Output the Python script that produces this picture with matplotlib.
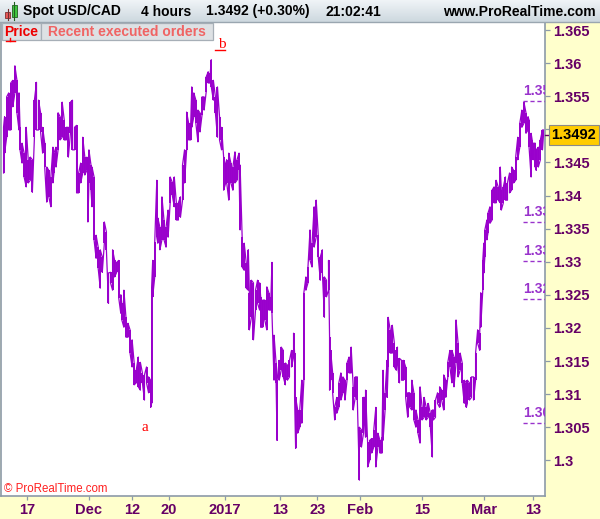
import matplotlib
import numpy as np

matplotlib.use("Agg")
import matplotlib.pyplot as plt
import matplotlib.transforms as mtransforms
from matplotlib.patches import Rectangle
from matplotlib.ticker import FixedLocator, FuncFormatter

plt.rcParams["font.family"] = ["Liberation Sans", "DejaVu Sans"]

# ------------------------------------
# Data
# ------------------------------------
# 4-hour bars, counted from the first bar on screen; high / low per sampled bar.
bar_index = [
    2, 3, 5, 7, 9, 11, 13, 15, 17, 18,
    20, 22, 24, 26, 28, 30, 32, 34, 36, 38,
    40, 42, 44, 46, 48, 50, 51, 53, 55, 57,
    59, 61, 63, 65, 67, 69, 71, 73, 75, 77,
    79, 81, 83, 84, 85, 87, 88, 90, 92, 94,
    96, 98, 100, 102, 104, 106, 108, 110, 112, 114,
    116, 117, 119, 121, 123, 125, 127, 129, 131, 133,
    135, 137, 139, 141, 143, 145, 146, 147, 149, 151,
    152, 154, 156, 158, 160, 162, 164, 166, 168, 170,
    172, 174, 176, 178, 180, 182, 184, 185, 187, 189,
    191, 193, 195, 197, 199, 201, 203, 204, 206, 208,
    210, 212, 214, 216, 218, 219, 221, 223, 225, 227,
    229, 231, 232, 234, 236, 238, 240, 241, 243, 245,
    247, 249, 251, 252, 254, 256, 258, 260, 262, 263,
    265, 267, 268, 270, 272, 274, 276, 278, 280, 282,
    284, 285, 286, 288, 290, 292, 294, 296, 298, 300,
    302, 304, 306, 308, 310, 312, 314, 316, 318, 319,
    320, 322, 324, 326, 328, 330, 332, 334, 336, 338,
    340, 342, 344, 346, 348, 350, 352, 353, 354, 356,
    358, 360, 362, 364, 366, 368, 370, 371, 373, 375,
    376, 378, 380, 382, 384, 385, 387, 389, 391, 393,
    395, 397, 399, 401, 403, 405, 407, 409, 411, 413,
    415, 417, 419, 420, 422, 424, 426, 428, 430, 432,
    434, 436, 438, 440, 442, 444, 446, 448, 450, 452,
    453, 455, 457, 459, 461, 463, 465, 466, 468, 469,
    470, 472, 473, 475, 477, 479, 481, 483, 485, 486,
    488, 490, 492, 494, 496, 498, 500, 502, 504, 506,
    508, 510, 512, 513, 515, 516, 517, 519, 520, 522,
    524, 526, 527,
]
highs = [
    1.3503, 1.3519, 1.3549, 1.3555, 1.3570, 1.3574, 1.3596, 1.3574, 1.3555, 1.3503,
    1.3479, 1.3464, 1.3503, 1.3454, 1.3458, 1.3454, 1.3544, 1.3571, 1.3544, 1.3525,
    1.3503, 1.3479, 1.3443, 1.3438, 1.3428, 1.3473, 1.3464, 1.3473, 1.3525, 1.3519,
    1.3541, 1.3514, 1.3503, 1.3503, 1.3541, 1.3544, 1.3503, 1.3506, 1.3434, 1.3449,
    1.3488, 1.3458, 1.3458, 1.3454, 1.3469, 1.3446, 1.3443, 1.3428, 1.3340, 1.3322,
    1.3318, 1.3307, 1.3360, 1.3345, 1.3283, 1.3284, 1.3318, 1.3302, 1.3299, 1.3302,
    1.3250, 1.3237, 1.3257, 1.3216, 1.3207, 1.3197, 1.3182, 1.3147, 1.3136, 1.3156,
    1.3148, 1.3132, 1.3129, 1.3141, 1.3126, 1.3121, 1.3262, 1.3302, 1.3330, 1.3423,
    1.3366, 1.3352, 1.3398, 1.3363, 1.3352, 1.3378, 1.3428, 1.3420, 1.3428, 1.3389,
    1.3389, 1.3398, 1.3446, 1.3469, 1.3526, 1.3509, 1.3509, 1.3564, 1.3555, 1.3544,
    1.3529, 1.3525, 1.3549, 1.3549, 1.3579, 1.3587, 1.3585, 1.3605, 1.3574, 1.3549,
    1.3564, 1.3519, 1.3503, 1.3458, 1.3449, 1.3454, 1.3464, 1.3449, 1.3443, 1.3466,
    1.3454, 1.3464, 1.3446, 1.3337, 1.3328, 1.3298, 1.3318, 1.3253, 1.3272, 1.3268,
    1.3257, 1.3272, 1.3268, 1.3247, 1.3242, 1.3242, 1.3262, 1.3253, 1.3247, 1.3299,
    1.3189, 1.3147, 1.3121, 1.3151, 1.3171, 1.3166, 1.3147, 1.3144, 1.3151, 1.3166,
    1.3192, 1.3162, 1.3095, 1.3076, 1.3076, 1.3121, 1.3253, 1.3277, 1.3292, 1.3348,
    1.3328, 1.3383, 1.3393, 1.3340, 1.3307, 1.3318, 1.3277, 1.3272, 1.3302, 1.3186,
    1.3166, 1.3132, 1.3080, 1.3095, 1.3117, 1.3132, 1.3126, 1.3121, 1.3147, 1.3156,
    1.3171, 1.3111, 1.3126, 1.3126, 1.3050, 1.3046, 1.3095, 1.3095, 1.3106, 1.3027,
    1.3030, 1.3033, 1.3046, 1.3080, 1.3041, 1.3030, 1.3035, 1.3136, 1.3102, 1.3151,
    1.3216, 1.3197, 1.3204, 1.3177, 1.3166, 1.3171, 1.3154, 1.3151, 1.3151, 1.3141,
    1.3102, 1.3102, 1.3121, 1.3102, 1.3076, 1.3061, 1.3111, 1.3080, 1.3095, 1.3080,
    1.3086, 1.3071, 1.3076, 1.3076, 1.3091, 1.3102, 1.3111, 1.3106, 1.3129, 1.3121,
    1.3148, 1.3166, 1.3166, 1.3156, 1.3212, 1.3177, 1.3162, 1.3147, 1.3121, 1.3117,
    1.3121, 1.3117, 1.3126, 1.3126, 1.3162, 1.3197, 1.3192, 1.3253, 1.3302, 1.3328,
    1.3348, 1.3363, 1.3373, 1.3383, 1.3408, 1.3413, 1.3423, 1.3413, 1.3443, 1.3408,
    1.3413, 1.3428, 1.3419, 1.3434, 1.3443, 1.3438, 1.3458, 1.3488, 1.3509, 1.3529,
    1.3541, 1.3525, 1.3519, 1.3514, 1.3494, 1.3484, 1.3479, 1.3479, 1.3469, 1.3473,
    1.3484, 1.3499, 1.3499,
]
lows = [
    1.3434, 1.3464, 1.3488, 1.3499, 1.3499, 1.3534, 1.3555, 1.3525, 1.3499, 1.3469,
    1.3449, 1.3428, 1.3413, 1.3419, 1.3423, 1.3405, 1.3488, 1.3499, 1.3499, 1.3496,
    1.3464, 1.3443, 1.3390, 1.3398, 1.3383, 1.3419, 1.3434, 1.3443, 1.3469, 1.3484,
    1.3488, 1.3484, 1.3484, 1.3458, 1.3494, 1.3469, 1.3469, 1.3404, 1.3404, 1.3419,
    1.3434, 1.3431, 1.3438, 1.3360, 1.3419, 1.3408, 1.3383, 1.3333, 1.3305, 1.3290,
    1.3260, 1.3284, 1.3328, 1.3318, 1.3237, 1.3268, 1.3257, 1.3277, 1.3284, 1.3245,
    1.3222, 1.3212, 1.3201, 1.3186, 1.3186, 1.3162, 1.3141, 1.3114, 1.3117, 1.3111,
    1.3106, 1.3117, 1.3091, 1.3117, 1.3102, 1.3080, 1.3086, 1.3247, 1.3277, 1.3337,
    1.3328, 1.3318, 1.3333, 1.3333, 1.3322, 1.3337, 1.3389, 1.3401, 1.3383, 1.3363,
    1.3363, 1.3367, 1.3393, 1.3419, 1.3469, 1.3484, 1.3484, 1.3503, 1.3519, 1.3509,
    1.3481, 1.3496, 1.3522, 1.3529, 1.3556, 1.3570, 1.3570, 1.3564, 1.3544, 1.3525,
    1.3488, 1.3484, 1.3469, 1.3408, 1.3419, 1.3419, 1.3393, 1.3419, 1.3408, 1.3419,
    1.3423, 1.3438, 1.3348, 1.3292, 1.3287, 1.3260, 1.3257, 1.3197, 1.3216, 1.3182,
    1.3227, 1.3237, 1.3227, 1.3201, 1.3201, 1.3212, 1.3197, 1.3227, 1.3227, 1.3222,
    1.3121, 1.3117, 1.3030, 1.3121, 1.3136, 1.3126, 1.3114, 1.3121, 1.3126, 1.3141,
    1.3156, 1.3095, 1.3018, 1.3041, 1.3050, 1.3056, 1.3121, 1.3257, 1.3268, 1.3302,
    1.3292, 1.3322, 1.3337, 1.3307, 1.3272, 1.3283, 1.3216, 1.3247, 1.3257, 1.3106,
    1.3121, 1.3102, 1.3061, 1.3071, 1.3080, 1.3091, 1.3102, 1.3091, 1.3121, 1.3132,
    1.3132, 1.3076, 1.3095, 1.3091, 1.2970, 1.3020, 1.3041, 1.3061, 1.3035, 1.2990,
    1.3000, 1.3011, 1.3020, 1.2990, 1.3020, 1.3011, 1.3011, 1.3030, 1.3076, 1.3095,
    1.3141, 1.3162, 1.3162, 1.3141, 1.3136, 1.3147, 1.3117, 1.3121, 1.3121, 1.3095,
    1.3065, 1.3080, 1.3076, 1.3061, 1.3050, 1.3041, 1.3026, 1.3061, 1.3065, 1.3061,
    1.3065, 1.3050, 1.3005, 1.3061, 1.3065, 1.3086, 1.3080, 1.3091, 1.3076, 1.3095,
    1.3126, 1.3141, 1.3117, 1.3111, 1.3147, 1.3126, 1.3136, 1.3117, 1.3086, 1.3080,
    1.3086, 1.3091, 1.3095, 1.3091, 1.3121, 1.3177, 1.3166, 1.3201, 1.3257, 1.3283,
    1.3307, 1.3333, 1.3343, 1.3358, 1.3363, 1.3389, 1.3389, 1.3393, 1.3389, 1.3378,
    1.3389, 1.3393, 1.3393, 1.3404, 1.3408, 1.3419, 1.3423, 1.3454, 1.3473, 1.3503,
    1.3509, 1.3494, 1.3499, 1.3473, 1.3428, 1.3458, 1.3454, 1.3443, 1.3438, 1.3443,
    1.3454, 1.3469, 1.3492,
]

last_price = 1.3492
change_pct = 0.30
clock = "21:02:41"

# Levels of the recent executed orders (dashed markers at the right edge)
order_levels = [1.3543, 1.3360, 1.3301, 1.3244, 1.3056]

# Date axis: sessions counted from this day, six 4-hour bars per session
first_session = "2016-11-11"
bars_per_session = 6
lead_bars = 1
tick_dates = ["2016-11-17", "2016-12-01", "2016-12-12", "2016-12-20", "2017-01-02",
              "2017-01-13", "2017-01-23", "2017-02-01", "2017-02-15", "2017-03-01",
              "2017-03-13"]
tick_labels = ["17", "Dec", "12", "20", "2017", "13", "23", "Feb", "15", "Mar", "13"]
price_ticks = np.arange(1.300, 1.3651, 0.005)

# ------------------------------------
# Style
# ------------------------------------
W, H = 600, 519
LINE = "#9900cc"
AXIS_TXT = "#660066"
PANEL = "#ffffcc"
EDGE = "#8c9aa8"
ORDER = "#9933cc"

fig = plt.figure(figsize=(W / 100, H / 100), dpi=100, facecolor=PANEL)
ax = fig.add_axes([1 / W, (H - 496) / H, 544 / W, 474 / H])
ax.set_facecolor("white")

# bars: vertical low-high strokes joined in a zig-zag
n = len(bar_index)
even = np.arange(n) % 2 == 0
lo = np.asarray(lows)
hi = np.asarray(highs)
xs = np.repeat(np.asarray(bar_index, dtype=float), 2)
ys = np.empty(2 * n)
ys[0::2] = np.where(even, lo, hi)
ys[1::2] = np.where(even, hi, lo)
ax.plot(xs, ys, color=LINE, lw=0.9, zorder=3)
ax.vlines(bar_index, lo, hi, color=LINE, lw=1.4, zorder=3)

ax.set_xlim(-0.5, 528.5)
ax.set_ylim(1.29461, 1.36621)


def price_label(v, _):
    # the 1.35 label sits under the last-price flag
    if abs(v - 1.35) < 1e-6:
        return ""
    return f"{v:.3f}".rstrip("0")


# right price scale
ax.yaxis.tick_right()
ax.yaxis.set_major_locator(FixedLocator(price_ticks))
ax.yaxis.set_major_formatter(FuncFormatter(price_label))
# bottom date scale
tick_pos = np.busday_count(first_session, tick_dates) * bars_per_session + lead_bars
ax.xaxis.set_major_locator(FixedLocator(tick_pos))
ax.set_xticklabels(tick_labels)
ax.tick_params(axis="y", length=3.5, width=0.9, color=EDGE, pad=2.5,
               labelsize=10.5, labelcolor=AXIS_TXT)
ax.tick_params(axis="x", length=3, width=0.9, color=EDGE, pad=2,
               labelsize=10.5, labelcolor=AXIS_TXT)
for lab in ax.get_xticklabels() + ax.get_yticklabels():
    lab.set_fontweight("bold")
for side in ("left", "right", "bottom"):
    ax.spines[side].set_color(EDGE)
    ax.spines[side].set_linewidth(1.2)
ax.spines["top"].set_visible(False)

# executed orders: short dashed level + price, cut by the scale edge
yax = ax.get_yaxis_transform()
ax.hlines(order_levels, 0.9596, 1.0, transform=yax, colors=ORDER,
          linestyles=(0, (3, 2)), lw=1.0, zorder=4)
lab_tr = mtransforms.offset_copy(yax, fig=fig, x=0, y=2, units="points")
for lvl in order_levels:
    ax.text(0.9596, lvl, f"{lvl:.4f}"[:4], transform=lab_tr, color=ORDER,
            fontsize=10, fontweight="bold", va="bottom", ha="left",
            clip_on=True, zorder=4)

# point markers a / b at the swing low and high
ax.text(139, 1.3060, "a", color="red", fontsize=11, family="Liberation Serif",
        ha="center", va="top", zorder=5)
ax.text(214, 1.3628, "b", color="red", fontsize=11, family="Liberation Serif",
        ha="center", va="center", zorder=5)

# last price flag on the scale
ax.text(1.012, last_price, f"{last_price:.4f}", transform=yax, color="black",
        fontsize=10.5, fontweight="bold", va="center", ha="left", zorder=10,
        clip_on=False,
        bbox=dict(boxstyle="square,pad=0.2", fc="#ffcc00", ec="#8a8a8a", lw=0.8))
ax.plot([1.0, 1.012], [last_price, last_price], transform=yax, color=AXIS_TXT,
        lw=1.0, clip_on=False, zorder=9)

ax.text(0.006, 0.015, "\u00a9 ProRealTime.com", transform=ax.transAxes,
        color="#ff2020", fontsize=8.3, ha="left", va="center", zorder=6)

# ------------------------------------
# Window chrome (pixel coordinates)
# ------------------------------------
ov = fig.add_axes([0, 0, 1, 1], zorder=5)
ov.patch.set_alpha(0)
ov.axis("off")
grad = np.linspace(0, 1, 64)[:, None]
top_rgb = np.array([0xf0, 0xf4, 0xf7]) / 255
bot_rgb = np.array([0xcd, 0xd8, 0xdf]) / 255
ov.imshow(top_rgb + grad[..., None] * (bot_rgb - top_rgb), extent=(0, W, 22, 0),
          aspect="auto", interpolation="bilinear")
ov.set_xlim(0, W)
ov.set_ylim(H, 0)
ov.plot([0, W], [22, 22], color="#9aa6b0", lw=1.0)

# candle icon
ov.plot([7.5, 7.5], [9, 20], color="#703030", lw=0.8)
ov.add_patch(Rectangle((5, 12), 5, 6, fc="#e85858", ec="#803030", lw=0.6))
ov.plot([14, 14], [2, 20], color="#206020", lw=0.8)
ov.add_patch(Rectangle((11.5, 5), 5, 12, fc="#40c840", ec="#206020", lw=0.6))

head = dict(fontsize=10, fontweight="bold", color="black", va="center")
ov.text(23, 11.5, "Spot USD/CAD", ha="left", **head)
ov.text(141, 11.5, "4 hours", ha="left", **head)
ov.text(206, 11.5, f"{last_price:.4f} (+{change_pct:.2f}%)", ha="left", **head)
ov.text(325, 11.5, clock, ha="left", **head)
ov.text(596, 11.5, "www.ProRealTime.com", ha="right", **head)

# underline marks of the letter markers (the first one sits under the box)
ov.plot([6, 15], [41, 41], color="red", lw=1.0)
ov.plot([10, 10], [38, 41], color="red", lw=1.0)
ov.plot([215, 225], [49.5, 49.5], color="red", lw=1.0)

ov.add_patch(Rectangle((2, 23), 39, 17, fc="#dde1e4", ec="#a7afb7", lw=0.9))
ov.add_patch(Rectangle((41, 23), 172, 17, fc="#dde1e4", ec="#a7afb7", lw=0.9))
ov.text(21.5, 31.5, "Price", color="#ee0000", fontsize=10, fontweight="bold",
        ha="center", va="center")
ov.text(127, 31.5, "Recent executed orders", color="#f06464", fontsize=10,
        fontweight="bold", ha="center", va="center")

fig.savefig("out.png", dpi=100, facecolor=PANEL)
